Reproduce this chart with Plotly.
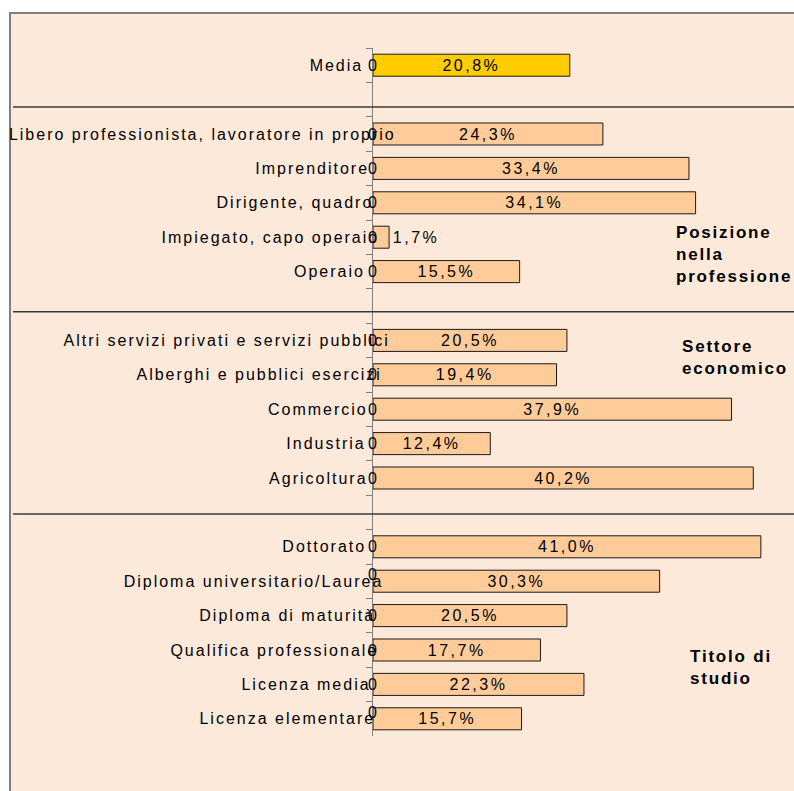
import plotly.graph_objects as go

# ---- data (top to bottom; blank strings are the empty slots between groups)
categories = [
    "Media", " ",
    "Libero professionista, lavoratore in proprio", "Imprenditore",
    "Dirigente, quadro", "Impiegato, capo operaio", "Operaio", "  ",
    "Altri servizi privati e servizi pubblici", "Alberghi e pubblici esercizi",
    "Commercio", "Industria", "Agricoltura", "   ",
    "Dottorato", "Diploma universitario/Laurea", "Diploma di maturità",
    "Qualifica professionale", "Licenza media", "Licenza elementare",
]
values = [20.8, None, 24.3, 33.4, 34.1, 1.7, 15.5, None,
          20.5, 19.4, 37.9, 12.4, 40.2, None,
          41.0, 30.3, 20.5, 17.7, 22.3, 15.7]
zero_series = [0 if v is not None else None for v in values]
group_labels = ["Posizione<br>nella<br>professione", "Settore<br>economico", "Titolo di<br>studio"]

# ---- style
W, H = 794, 791
AX_L, AX_T, AX_B = 373, 48, 55
PLOT_W = W - AX_L
PLOT_H = H - AX_T - AX_B
BG = "#FDE9DA"
BAR = "#FFCC99"
MEDIA = "#FFCC00"
FONT = "Liberation Sans, Arial, sans-serif"

def px_x(px):
    return (px - AX_L) / PLOT_W

def px_y(py):
    return (H - AX_B - py) / PLOT_H

colors = [MEDIA if c == "Media" else BAR for c in categories]
templates = [(" %{x:.1f}%" if (v is not None and v < 5) else "%{x:.1f}%") for v in values]
zero_dy = [0] * len(categories)
zero_dy[categories.index("Diploma universitario/Laurea")] = 7
zero_dy[categories.index("Licenza elementare")] = 6

fig = go.Figure()
fig.add_trace(go.Bar(
    x=values, y=categories, orientation="h",
    marker=dict(color=colors, line=dict(color="#1a1a1a", width=1)),
    width=0.64,
    texttemplate=templates, textposition="auto",
    insidetextanchor="middle", constraintext="none",
    textfont=dict(family=FONT, size=16, color="black"),
    outsidetextfont=dict(family=FONT, size=16, color="black"),
    insidetextfont=dict(family=FONT, size=16, color="black"),
    hoverinfo="skip",
))

annotations = []
for c, z, dy in zip(categories, zero_series, zero_dy):
    if z is None:
        continue
    annotations.append(dict(x=z, y=c, xref="x", yref="y", text="0", showarrow=False,
                            xanchor="center", yanchor="middle", yshift=dy,
                            font=dict(family=FONT, size=16, color="black")))

group_pos = [(674, 221), (680, 335), (688, 645)]
for txt, (gx, gy) in zip(group_labels, group_pos):
    annotations.append(dict(x=px_x(gx), y=px_y(gy), xref="paper", yref="paper", text="<b>" + txt + "</b>",
                            showarrow=False, xanchor="left", yanchor="top", align="left",
                            font=dict(family=FONT, size=17, color="black")))

shapes = [
    # chart area background with top/left border
    dict(type="rect", xref="paper", yref="paper", layer="below",
         x0=px_x(10), x1=px_x(W + 20), y0=px_y(H + 20), y1=px_y(13),
         fillcolor=BG, line=dict(color="#7f7f7f", width=2)),
]
for ysep in [1.215, 7.17, 13.05]:
    shapes.append(dict(type="line", xref="paper", yref="y", x0=px_x(13), x1=px_x(W + 20),
                       y0=ysep, y1=ysep, line=dict(color="#3a3a3a", width=1.5)))

fig.update_layout(
    width=W, height=H,
    margin=dict(l=AX_L, r=0, t=AX_T, b=AX_B, pad=0, autoexpand=False),
    paper_bgcolor="white", plot_bgcolor="rgba(0,0,0,0)",
    separators=",.",
    showlegend=False,
    bargap=0.36,
    shapes=shapes, annotations=annotations,
    font=dict(family=FONT, size=16, color="black"),
    xaxis=dict(visible=False, range=[0, PLOT_W / 9.46], fixedrange=True),
    yaxis=dict(type="category", categoryorder="array", categoryarray=categories,
               range=[len(categories) - 0.5, -0.5], automargin=False,
               showline=True, linecolor="#808080", linewidth=1,
               ticks="outside", ticklen=6, tickcolor="#808080", tickwidth=1,
               tickson="boundaries", showgrid=False, zeroline=False,
               tickfont=dict(family=FONT, size=16, color="black")),
)

post = """
document.body.style.margin = '0';
document.body.style.padding = '0';
var gd = document.getElementById('{plot_id}');
var L = gd.getBoundingClientRect().left;
var R = L + %d - 15;
gd.querySelectorAll('.ytick text').forEach(function(t){
  t.style.letterSpacing = '2px';
  var r = t.getBoundingClientRect();
  if (r.width < 2) return;
  var target = R + 0.0975 * r.width;
  var dx = target - r.right;
  t.setAttribute('x', parseFloat(t.getAttribute('x') || 0) + dx);
});
gd.querySelectorAll('.bartext').forEach(function(t){
  t.style.letterSpacing = '2.5px';
});
gd.querySelectorAll('.annotation-text').forEach(function(t){
  t.style.letterSpacing = '1.8px';
});
""" % AX_L

fig.write_html("out.html", post_script=post, config={"displayModeBar": False, "staticPlot": True})
